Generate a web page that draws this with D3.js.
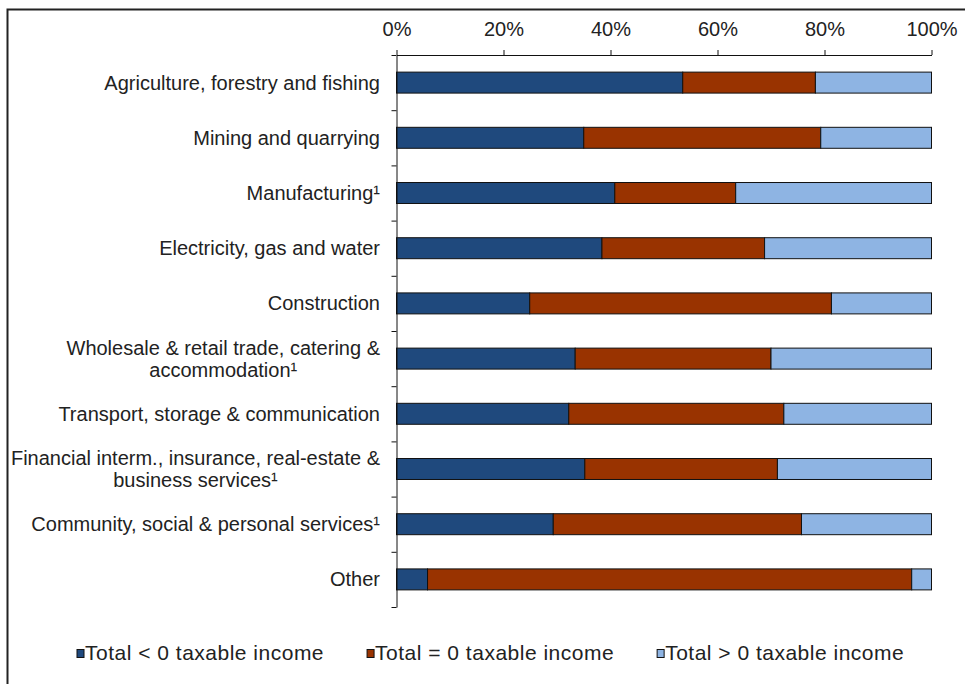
<!DOCTYPE html>
<html>
<head>
<meta charset="utf-8">
<script src="https://cdn.jsdelivr.net/npm/d3@7"></script>
<style>
  html, body { margin: 0; padding: 0; background: #fff; }
  svg text { font-family: "Liberation Sans", Arial, sans-serif; fill: #222; }
</style>
</head>
<body>
<div id="chart"></div>
<script>
// 数据
const categories = [
  "Agriculture, forestry and fishing",
  "Mining and quarrying",
  "Manufacturing\u00b9",
  "Electricity, gas and water",
  "Construction",
  "Wholesale & retail trade, catering &\naccommodation\u00b9",
  "Transport, storage & communication",
  "Financial interm., insurance, real-estate &\nbusiness services\u00b9",
  "Community, social & personal services\u00b9",
  "Other"
]
const negIncome = [53.5, 35.0, 40.8, 38.4, 24.9, 33.4, 32.2, 35.2, 29.3, 5.8]
const zeroIncome = [24.8, 44.3, 22.6, 30.4, 56.4, 36.6, 40.2, 36.0, 46.4, 90.5]
const posIncome = [21.7, 20.7, 36.6, 31.2, 18.7, 30.0, 27.6, 28.8, 24.3, 3.7]
const seriesNames = ["Total < 0 taxable income", "Total = 0 taxable income", "Total > 0 taxable income"]
const seriesColors = ["#1f497d", "#993300", "#8eb4e3"]
const tickValues = [0, 20, 40, 60, 80, 100]

const width = 965
const height = 684
const plotLeft = 396.5
const plotRight = 931.5
const plotTop = 55
const plotBottom = 607

const svg = d3.select("#chart").append("svg")
  .attr("width", width).attr("height", height)

svg.append("rect").attr("width", width).attr("height", height).attr("fill", "#fff")

// 外框（只有上边和左边）
svg.append("path")
  .attr("d", `M7.5,${height} L7.5,9.5 L${width},9.5`)
  .attr("fill", "none").attr("stroke", "#222").attr("stroke-width", 2)

const x = d3.scaleLinear().domain([0, 100]).range([plotLeft, plotRight])
const y = d3.scaleBand().domain(categories).range([plotTop, plotBottom])
  .paddingInner(0.62).paddingOuter(0.31)
const yEdge = d3.scaleLinear().domain([0, categories.length]).range([plotTop, plotBottom])

// 堆叠
const rows = categories.map((c, i) => ({cat: c, s0: negIncome[i], s1: zeroIncome[i], s2: posIncome[i]}))
const stacked = d3.stack().keys(["s0", "s1", "s2"])(rows)

svg.append("g").selectAll("g")
  .data(stacked)
  .join("g")
  .attr("fill", (d, i) => seriesColors[i])
  .selectAll("rect")
  .data(d => d)
  .join("rect")
  .attr("x", d => x(d[0]))
  .attr("y", d => y(d.data.cat))
  .attr("width", d => x(d[1]) - x(d[0]))
  .attr("height", y.bandwidth())
  .attr("stroke", "#111")
  .attr("stroke-width", 1)

// 顶部坐标轴
const xAxis = svg.append("g")
  .attr("transform", `translate(0,${plotTop})`)
  .call(d3.axisTop(x).tickValues(tickValues).tickSize(5).tickSizeOuter(0)
    .tickPadding(14).tickFormat(d => d + "%"))
xAxis.selectAll("text").attr("font-size", 20).style("fill", "#222")
xAxis.selectAll("line, path").attr("stroke", "#111")

// 左侧坐标轴（刻度在类别分界处）
const yAxis = svg.append("g")
  .attr("transform", `translate(${plotLeft},0)`)
  .call(d3.axisLeft(yEdge).tickValues(d3.range(categories.length + 1)).tickSize(5)
    .tickSizeOuter(0).tickFormat(""))
yAxis.selectAll("line, path").attr("stroke", "#111")

// 类别标签，多行时居中对齐
const labelRight = 380
const lineH = 22
categories.forEach(c => {
  const lines = c.split("\n")
  const cy = y(c) + y.bandwidth() / 2
  const g = svg.append("g")
  const texts = lines.map((t, k) => g.append("text")
    .attr("font-size", 20)
    .attr("y", cy + 7 + (k - (lines.length - 1) / 2) * lineH)
    .text(t))
  const maxW = d3.max(texts, t => t.node().getComputedTextLength())
  texts.forEach(t => t.attr("text-anchor", "middle").attr("x", labelRight - maxW / 2))
})

// 图例
let lx = 77
seriesNames.forEach((name, i) => {
  svg.append("rect")
    .attr("x", lx).attr("y", 649.5).attr("width", 7).attr("height", 8)
    .attr("fill", seriesColors[i]).attr("stroke", "#111")
  const t = svg.append("text")
    .attr("x", lx + 8).attr("y", 660)
    .attr("font-size", 21)
    .attr("letter-spacing", 0.5)
    .text(name)
  lx += 8 + t.node().getComputedTextLength() + 43
})
</script>
</body>
</html>
